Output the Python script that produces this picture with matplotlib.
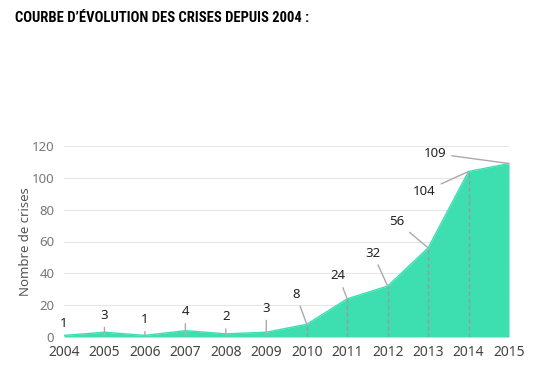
import numpy as np
import matplotlib
matplotlib.use('Agg')
import matplotlib.pyplot as plt

# data
years = [2004, 2005, 2006, 2007, 2008, 2009, 2010, 2011, 2012, 2013, 2014, 2015]
crises = [1, 3, 1, 4, 2, 3, 8, 24, 32, 56, 104, 109]
y_ticks = [0, 20, 40, 60, 80, 100, 120]

# label placement, in pixels from the point
label_offsets = [(0, 12), (0, 17), (0, 16), (0, 19), (0, 17), (0, 24),
                 (-11, 30), (-9, 23), (-15, 33), (-31, 26), (-44, -20), (-74, 10)]

plt.rcParams['font.family'] = ['Noto Sans', 'DejaVu Sans']

fig = plt.figure(figsize=(5.34, 3.69), dpi=100)
ax = fig.add_axes([64 / 534, 1 - 337 / 369, 445 / 534, 191 / 369])

fill_color = '#3ddfb1'
ax.fill_between(years, crises, 0, color=fill_color, lw=0, zorder=2)
ax.plot(years, crises, color=fill_color, lw=1, zorder=2)

# drop lines to the baseline
ax.vlines(years[6:], 0, crises[6:], colors='#9a9a9a', linestyles=(0, (3, 2)), lw=1, zorder=3)
ax.vlines(years[1:6], 0, crises[1:6], colors='#b0b0b0', lw=1, zorder=3)

for i, (yr, val) in enumerate(zip(years, crises)):
    dx, dy = label_offsets[i]
    arrow = None if i == 0 else dict(arrowstyle='-', color='#aaaaaa', lw=1, shrinkA=2, shrinkB=0)
    ax.annotate(str(val), xy=(yr, val), xytext=(dx, dy), textcoords='offset pixels',
                ha='center', va='center', fontsize=9.5, color='#222222',
                arrowprops=arrow, zorder=4)

ax.set_xlim(2004, 2015)
ax.set_ylim(0, 120)
ax.set_xticks(years)
ax.set_yticks(y_ticks)
ax.grid(axis='y', color='#e6e6e6', lw=0.8, zorder=0)
ax.set_axisbelow(True)
for s in ax.spines.values():
    s.set_visible(False)
ax.tick_params(length=0)
ax.tick_params(axis='x', pad=6, labelsize=10, labelcolor='#444444')
ax.tick_params(axis='y', pad=7, labelsize=9.5, labelcolor='#777777')
for lbl in ax.get_xticklabels():
    lbl.set_fontweight('medium')
ax.set_ylabel('Nombre de crises', fontsize=9.5, color='#555555', labelpad=0)

fig.text(15 / 534, 1 - 18 / 369, 'COURBE D\u2019ÉVOLUTION DES CRISES DEPUIS 2004 :',
         fontsize=10.5, fontweight='bold', va='center', ha='left', color='black',
         family=['DejaVu Sans Condensed', 'Liberation Sans Narrow', 'Roboto Condensed', 'Roboto'],
         fontstretch='condensed')

fig.savefig('out.png', dpi=100)
